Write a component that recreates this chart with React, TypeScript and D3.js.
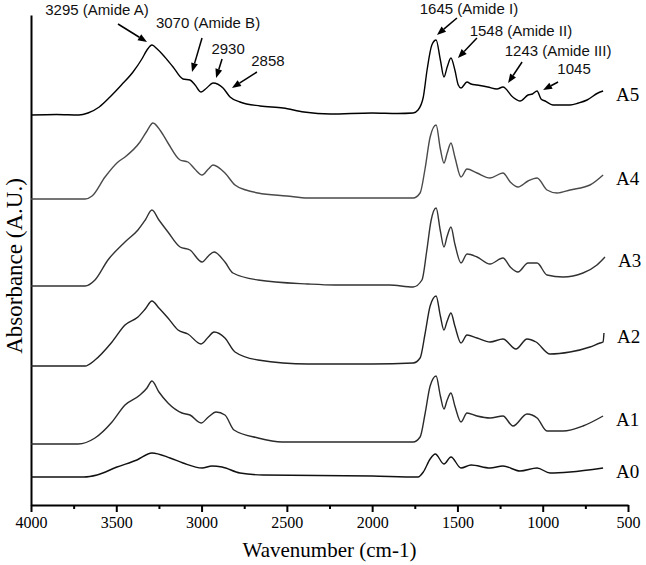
import React, { useEffect, useRef } from 'react';
import * as d3 from 'd3';

// spectra: [wavenumber, absorbance above the trace's own baseline]
const a5 = [[4000, 0], [3850, 0.005], [3720, 0], [3666, 0.02], [3600, 0.08], [3537, 0.18], [3470, 0.3], [3402, 0.43], [3350, 0.56], [3320, 0.65], [3291, 0.7], [3260, 0.66], [3226, 0.6], [3167, 0.48], [3109, 0.36], [3068, 0.35], [3038, 0.3], [3003, 0.23], [2970, 0.27], [2933, 0.32], [2874, 0.27], [2833, 0.18], [2775, 0.13], [2657, 0.09], [2522, 0.07], [2400, 0.03], [2247, 0.01], [2000, 0.02], [1850, 0.015], [1760, 0.02], [1731, 0.05], [1700, 0.18], [1678, 0.45], [1650, 0.7], [1625, 0.75], [1600, 0.55], [1579, 0.38], [1560, 0.48], [1538, 0.57], [1515, 0.45], [1495, 0.3], [1479, 0.27], [1444, 0.33], [1420, 0.31], [1385, 0.3], [1322, 0.28], [1268, 0.26], [1233, 0.28], [1176, 0.18], [1133, 0.14], [1086, 0.2], [1060, 0.21], [1033, 0.24], [1010, 0.16], [986, 0.14], [940, 0.1], [880, 0.1], [840, 0.1], [790, 0.12], [740, 0.15], [676, 0.22], [646, 0.24]];
const a4 = [[4000, 0], [3683, 0], [3642, 0.03], [3566, 0.22], [3490, 0.37], [3449, 0.42], [3361, 0.57], [3320, 0.68], [3285, 0.76], [3240, 0.68], [3197, 0.56], [3126, 0.39], [3080, 0.37], [3040, 0.3], [2997, 0.24], [2960, 0.3], [2933, 0.34], [2863, 0.26], [2804, 0.14], [2740, 0.09], [2669, 0.06], [2500, 0.03], [2376, 0.01], [2000, 0.01], [1760, 0.01], [1719, 0.06], [1690, 0.3], [1660, 0.62], [1625, 0.74], [1600, 0.5], [1579, 0.36], [1560, 0.46], [1538, 0.56], [1515, 0.42], [1479, 0.22], [1444, 0.3], [1385, 0.26], [1309, 0.21], [1233, 0.26], [1190, 0.17], [1145, 0.12], [1086, 0.18], [1033, 0.21], [975, 0.09], [916, 0.06], [840, 0.09], [723, 0.14], [646, 0.24]];
const a3 = [[4000, 0], [3683, 0], [3625, 0.06], [3549, 0.26], [3449, 0.44], [3373, 0.56], [3330, 0.66], [3291, 0.76], [3250, 0.66], [3197, 0.54], [3126, 0.39], [3068, 0.36], [2997, 0.24], [2960, 0.3], [2927, 0.34], [2863, 0.24], [2816, 0.13], [2669, 0.06], [2376, 0.02], [2218, 0.01], [1900, 0.01], [1760, -0.01], [1708, 0.06], [1680, 0.35], [1655, 0.65], [1625, 0.78], [1600, 0.55], [1579, 0.39], [1560, 0.5], [1538, 0.59], [1515, 0.42], [1479, 0.23], [1444, 0.32], [1385, 0.29], [1309, 0.22], [1233, 0.28], [1190, 0.19], [1145, 0.14], [1086, 0.23], [1033, 0.23], [975, 0.11], [881, 0.09], [764, 0.13], [682, 0.21], [635, 0.29]];
const a2 = [[4000, 0], [3683, 0], [3625, 0.06], [3525, 0.24], [3449, 0.41], [3373, 0.49], [3330, 0.57], [3291, 0.65], [3250, 0.58], [3197, 0.48], [3138, 0.36], [3080, 0.32], [3003, 0.22], [2960, 0.29], [2927, 0.34], [2863, 0.28], [2804, 0.14], [2669, 0.06], [2376, 0.02], [2000, 0.02], [1760, 0.03], [1719, 0.08], [1690, 0.32], [1660, 0.6], [1625, 0.7], [1600, 0.5], [1579, 0.36], [1560, 0.45], [1538, 0.53], [1515, 0.4], [1479, 0.23], [1444, 0.31], [1385, 0.28], [1309, 0.24], [1233, 0.27], [1157, 0.17], [1092, 0.27], [1039, 0.24], [957, 0.12], [840, 0.14], [723, 0.19], [664, 0.23], [646, 0.24], [641, 0.33]];
const a1 = [[4000, 0], [3724, 0], [3625, 0.06], [3525, 0.22], [3449, 0.39], [3361, 0.49], [3320, 0.56], [3291, 0.63], [3250, 0.52], [3197, 0.41], [3115, 0.31], [3068, 0.29], [3003, 0.21], [2960, 0.27], [2915, 0.32], [2863, 0.29], [2810, 0.14], [2669, 0.06], [2528, 0.02], [2000, 0.02], [1760, 0.02], [1719, 0.07], [1690, 0.3], [1660, 0.58], [1625, 0.68], [1600, 0.48], [1579, 0.35], [1560, 0.44], [1538, 0.51], [1515, 0.38], [1479, 0.22], [1444, 0.31], [1385, 0.28], [1309, 0.26], [1233, 0.28], [1174, 0.18], [1092, 0.3], [1033, 0.26], [975, 0.13], [881, 0.13], [764, 0.18], [646, 0.28]];
const a0 = [[4000, 0], [3690, 0], [3613, 0.02], [3496, 0.1], [3379, 0.17], [3291, 0.24], [3185, 0.19], [3109, 0.14], [2997, 0.09], [2939, 0.11], [2880, 0.1], [2775, 0.04], [2640, 0.02], [2000, 0.01], [1731, 0], [1700, 0.05], [1660, 0.18], [1630, 0.23], [1579, 0.13], [1538, 0.2], [1479, 0.09], [1420, 0.12], [1309, 0.09], [1233, 0.11], [1133, 0.06], [1033, 0.09], [957, 0.04], [840, 0.05], [646, 0.09]];

const seriesNames = ['A5', 'A4', 'A3', 'A2', 'A1', 'A0'];
const seriesData = [a5, a4, a3, a2, a1, a0];
const seriesOffsets = [3.9, 3.06, 2.19, 1.39, 0.61, 0.28];

const majorTicks = [4000, 3500, 3000, 2500, 2000, 1500, 1000, 500];
const minorTicks = [3750, 3250, 2750, 2250, 1750, 1250, 750];

// band assignments on the top trace
const annotLabels = ['3295 (Amide A)', '3070 (Amide B)', '2930', '2858', '1645 (Amide I)', '1548 (Amide II)', '1243 (Amide III)', '1045'];
const annotWn = [3320, 3056, 2915, 2822, 1620, 1497, 1203, 998];
const annotAbs = [4.63, 4.33, 4.27, 4.17, 4.7, 4.47, 4.22, 4.15];

// layout only: arrow tail and label centre relative to the arrow tip
const annotLayout = [
  { tx: -29, ty: -18, lx: -50, ly: -31 },
  { tx: 10, ty: -34, lx: 16, ly: -48 },
  { tx: 6, ty: -19, lx: 12, ly: -28 },
  { tx: 25, ty: -16, lx: 36, ly: -26 },
  { tx: 20, ty: -17, lx: 32, ly: -25 },
  { tx: 19, ty: -20, lx: 63, ly: -26 },
  { tx: 14, ty: -21, lx: 50, ly: -31 },
  { tx: 15, ty: -8, lx: 31, ly: -20 },
];
const seriesColors = ['#000', '#4a4a4a', '#333', '#222', '#2a2a2a', '#111'];

const App = () => {
  const ref = useRef(null);

  useEffect(() => {
    const width = 646;
    const height = 565;
    const left = 31;
    const right = 628;
    const top = 15;
    const bottom = 505;

    const svg = d3.select(ref.current);
    svg.selectAll('*').remove();

    const xScale = d3.scaleLinear().domain([4000, 500]).range([left, right]);
    const yScale = d3.scaleLinear().domain([0, 4.9]).range([bottom, top]);

    // axes
    const xMajor = d3.axisBottom(xScale).tickValues(majorTicks).tickSize(7).tickSizeOuter(0).tickPadding(5).tickFormat(d3.format('d'));
    const gx = svg.append('g').attr('transform', `translate(0, ${bottom})`).call(xMajor);
    gx.select('.domain').attr('stroke', '#000').attr('stroke-width', 2);
    gx.selectAll('.tick line').attr('stroke', '#000').attr('stroke-width', 2);
    gx.selectAll('.tick text').attr('font-family', '"Liberation Serif", "Times New Roman", serif').attr('font-size', 16).attr('fill', '#000');

    const xMinor = d3.axisBottom(xScale).tickValues(minorTicks).tickSize(4).tickFormat(() => '');
    const gm = svg.append('g').attr('transform', `translate(0, ${bottom})`).call(xMinor);
    gm.select('.domain').remove();
    gm.selectAll('.tick line').attr('stroke', '#000').attr('stroke-width', 2);

    const yAxis = d3.axisLeft(yScale).tickValues([]).tickSizeOuter(0);
    const gy = svg.append('g').attr('transform', `translate(${left}, 0)`).call(yAxis);
    gy.select('.domain').attr('stroke', '#000').attr('stroke-width', 2);

    svg.append('text')
      .attr('x', (left + right) / 2)
      .attr('y', 557)
      .attr('text-anchor', 'middle')
      .attr('font-family', '"Liberation Serif", "Times New Roman", serif')
      .attr('font-size', 21)
      .text('Wavenumber (cm-1)');

    svg.append('text')
      .attr('transform', 'translate(22, 266) rotate(-90)')
      .attr('text-anchor', 'middle')
      .attr('font-family', '"Liberation Serif", "Times New Roman", serif')
      .attr('font-size', 23)
      .text('Absorbance (A.U.)');

    // spectra
    seriesData.forEach((data, i) => {
      const off = seriesOffsets[i];
      const line = d3.line()
        .x((d) => xScale(d[0]))
        .y((d) => yScale(d[1] + off))
        .curve(d3.curveMonotoneX);
      svg.append('path')
        .datum(data)
        .attr('d', line)
        .attr('fill', 'none')
        .attr('stroke', seriesColors[i])
        .attr('stroke-width', 1.4)
        .attr('stroke-linejoin', 'round');

      const last = data[data.length - 1];
      svg.append('text')
        .attr('x', xScale(last[0]) + 13)
        .attr('y', yScale(last[1] + off) + 6)
        .attr('dominant-baseline', 'middle')
        .attr('font-family', '"Liberation Serif", "Times New Roman", serif')
        .attr('font-size', 19)
        .text(seriesNames[i]);
    });

    // annotations with arrows
    annotLabels.forEach((label, i) => {
      const px = xScale(annotWn[i]);
      const py = yScale(annotAbs[i]);
      const lay = annotLayout[i];
      const sx = px + lay.tx;
      const sy = py + lay.ty;
      const ang = Math.atan2(py - sy, px - sx);
      const headLen = 9;
      const headW = 3.5;
      const bx = px - headLen * Math.cos(ang);
      const by = py - headLen * Math.sin(ang);

      svg.append('line')
        .attr('x1', sx).attr('y1', sy)
        .attr('x2', bx).attr('y2', by)
        .attr('stroke', '#000')
        .attr('stroke-width', 1.5);
      const pts = [
        [px, py],
        [bx + headW * Math.sin(ang), by - headW * Math.cos(ang)],
        [bx - headW * Math.sin(ang), by + headW * Math.cos(ang)],
      ];
      svg.append('polygon').attr('points', pts.map((p) => p.join(',')).join(' ')).attr('fill', '#000');

      svg.append('text')
        .attr('x', px + lay.lx)
        .attr('y', py + lay.ly)
        .attr('text-anchor', 'middle')
        .attr('dominant-baseline', 'middle')
        .attr('font-family', '"Liberation Sans", Arial, sans-serif')
        .attr('font-size', 15)
        .attr('fill', '#111')
        .text(label);
    });

    svg.attr('width', width).attr('height', height);
  }, []);

  return (
    <svg
      ref={ref}
      width={646}
      height={565}
      style={{ position: 'absolute', left: 0, top: 0, background: '#fff' }}
    />
  );
};

export default App;
